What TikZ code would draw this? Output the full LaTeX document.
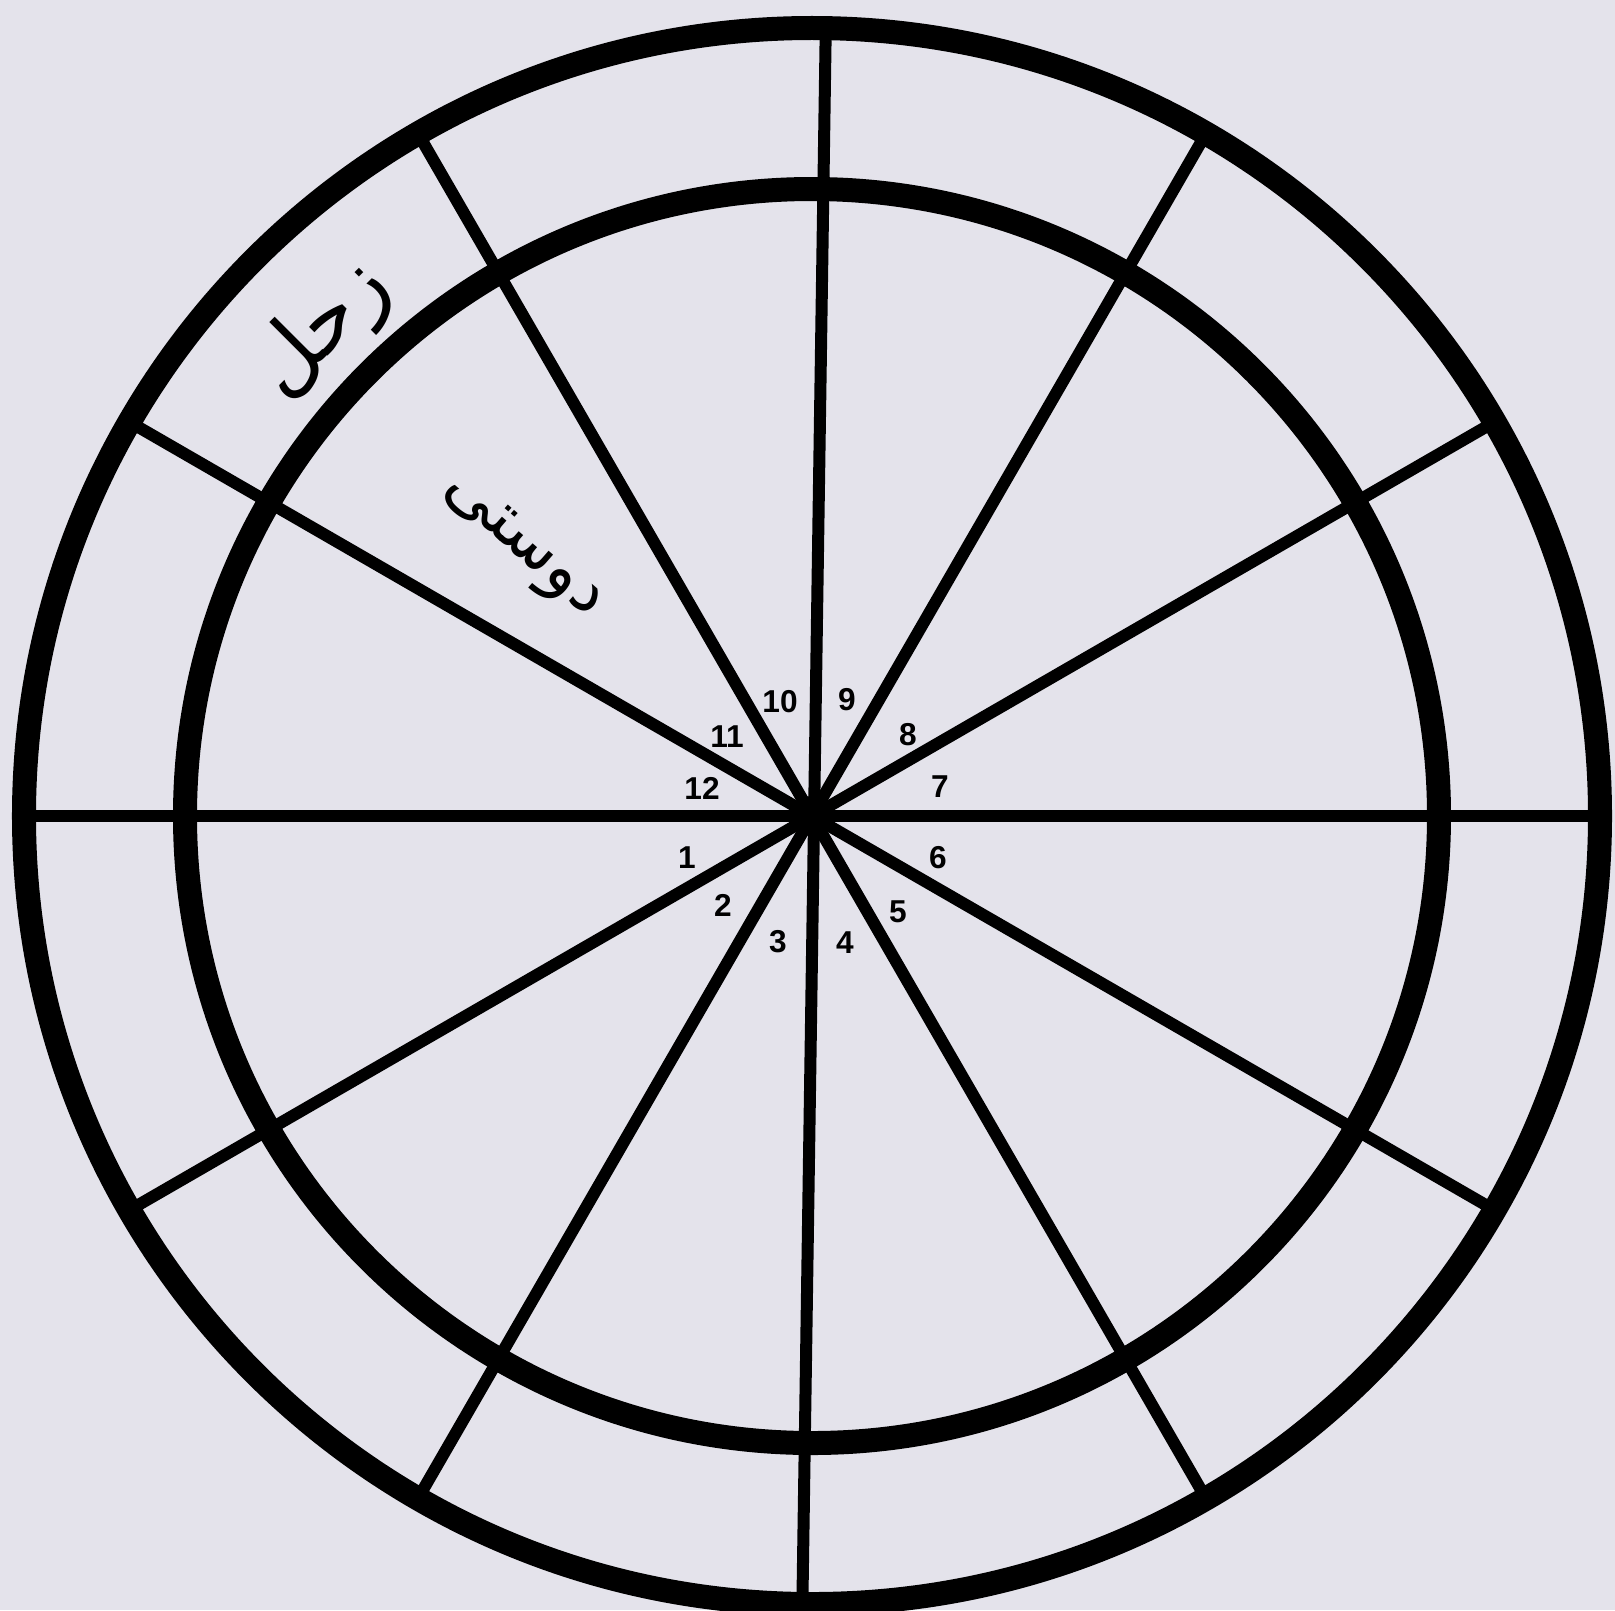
\documentclass[tikz,border=0pt]{standalone}
\usepackage{fontspec}
\setmainfont{Liberation Sans}
\newfontfamily\arabicfont[Script=Arabic]{DejaVu Sans}
\TeXXeTstate=1
\definecolor{paper}{RGB}{228,227,235}
\begin{document}
\begin{tikzpicture}[ring/.style={line width=0.24cm}, spoke/.style={line width=0.12cm}, num/.style={font=\fontsize{9}{10}\selectfont\bfseries, inner sep=0pt}]
\fill[paper] (-8.12,-7.94) rectangle (8.03,8.16);
\useasboundingbox (-8.12,-7.94) rectangle (8.03,8.16);
\coordinate (o) at (0,0);
\draw[spoke] (0:7.89) -- (180:7.89);
\draw[spoke] (30:7.89) -- (210:7.89);
\draw[spoke] (60:7.89) -- (240:7.89);
\draw[spoke] (89:7.89) -- (269.3:7.89);
\draw[spoke] (120:7.89) -- (300:7.89);
\draw[spoke] (150:7.89) -- (330:7.89);
\draw[ring] (o) circle (7.88);
\draw[ring] (o) circle (6.27);
\fill (o) circle (0.2);
\node[num] (n1) at (-1.25,-0.42) {1};
\node[num] (n2) at (-0.89,-0.89) {2};
\node[num] (n3) at (-0.34,-1.26) {3};
\node[num] (n4) at (0.33,-1.27) {4};
\node[num] (n5) at (0.86,-0.96) {5};
\node[num] (n6) at (1.26,-0.42) {6};
\node[num] (n7) at (1.28,0.29) {7};
\node[num] (n8) at (0.96,0.81) {8};
\node[num] (n9) at (0.35,1.16) {9};
\node[num] (n10) at (-0.32,1.14) {10};
\node[num] (n11) at (-0.85,0.79) {11};
\node[num] (n12) at (-1.10,0.28) {12};
\node[rotate=45, inner sep=0pt] (zuhal) at (-4.89,4.86) {\arabicfont\fontsize{24}{28}\selectfont\beginR زحل\endR};
\node[rotate=-41, inner sep=0pt] (dusti) at (-2.91,2.68) {\arabicfont\fontsize{19}{23}\selectfont\beginR دوستی\endR};
\end{tikzpicture}
\end{document}
